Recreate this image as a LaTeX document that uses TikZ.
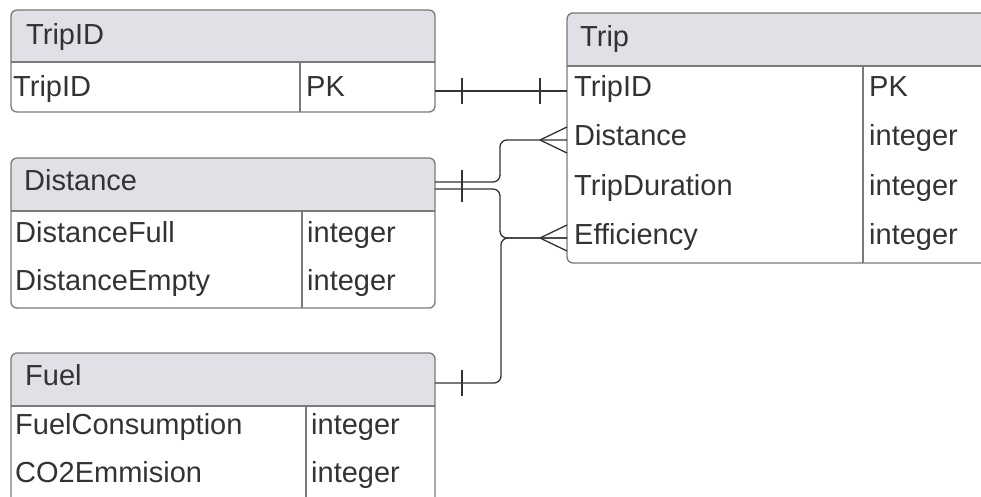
\documentclass[tikz,border=0pt]{standalone}
\usepackage{fontspec}
\setmainfont{Liberation Sans}
\definecolor{hdrgray}{HTML}{DFE1E6}
\definecolor{framegray}{HTML}{7A7A7A}
\definecolor{ink}{HTML}{333333}
\begin{document}
\begin{tikzpicture}[x=1pt,y=-1pt,
  hdr/.style={fill=hdrgray},
  frame/.style={draw=framegray, line width=1.3pt, rounded corners=6pt},
  rule/.style={draw=framegray, line width=1.1pt},
  lbl/.style={anchor=base west, text=ink, inner sep=0pt,
              font=\fontsize{29}{32}\selectfont},
  rel/.style={draw=ink, line width=1.3pt, rounded corners=7pt},
  bar/.style={draw=ink, line width=1.3pt}]
\useasboundingbox (0,0) rectangle (981,497);
\clip (0,0) rectangle (981,497);

% ---------- table TripID ----------
\fill[hdr] (11,62) [rounded corners=6pt] -- (11,10) -- (435,10) [sharp corners] -- (435,62) -- cycle;
\path[frame] (11,10) rectangle (435,112);
\draw[rule] (11,62) -- (435,62);
\draw[rule] (300,62) -- (300,112);
\node[lbl] (tidH)  at (26,45)  {TripID};
\node[lbl] (tidR1) at (13,97)  {TripID};
\node[lbl] (tidT1) at (306,97) {PK};
\coordinate (tidOut) at (435,91);

% ---------- table Trip ----------
\fill[hdr] (567,66) [rounded corners=6pt] -- (567,13) -- (1000,13) [sharp corners] -- (1000,66) -- cycle;
\path[frame] (567,13) rectangle (1000,263);
\draw[rule] (567,66) -- (1000,66);
\draw[rule] (863,66) -- (863,263);
\node[lbl] (tripH)  at (580,47)  {Trip};
\node[lbl] (tripR1) at (574,97)  {TripID};
\node[lbl] (tripR2) at (574,146) {Distance};
\node[lbl] (tripR3) at (574,195) {TripDuration};
\node[lbl] (tripR4) at (574,244) {Efficiency};
\node[lbl] (tripT1) at (869,97)  {PK};
\node[lbl] (tripT2) at (869,146) {integer};
\node[lbl] (tripT3) at (869,195) {integer};
\node[lbl] (tripT4) at (869,244) {integer};
\coordinate (tripIn1) at (567,91);
\coordinate (tripIn2) at (567,140);
\coordinate (tripIn4) at (567,238);

% ---------- table Distance ----------
\fill[hdr] (11,211) [rounded corners=6pt] -- (11,158) -- (435,158) [sharp corners] -- (435,211) -- cycle;
\path[frame] (11,158) rectangle (435,308);
\draw[rule] (11,211) -- (435,211);
\draw[rule] (302,211) -- (302,308);
\node[lbl] (distH)  at (24,190)  {Distance};
\node[lbl] (distR1) at (15,242)  {DistanceFull};
\node[lbl] (distR2) at (15,290)  {DistanceEmpty};
\node[lbl] (distT1) at (307,242) {integer};
\node[lbl] (distT2) at (307,290) {integer};
\coordinate (distOutA) at (435,182);
\coordinate (distOutB) at (435,189);

% ---------- table Fuel ----------
\fill[hdr] (11,406) [rounded corners=6pt] -- (11,353) -- (435,353) [sharp corners] -- (435,406) -- cycle;
\path[frame] (11,353) rectangle (435,520);
\draw[rule] (11,406) -- (435,406);
\draw[rule] (306,406) -- (306,520);
\node[lbl] (fuelH)  at (25,385)  {Fuel};
\node[lbl] (fuelR1) at (15,434)  {FuelConsumption};
\node[lbl] (fuelR2) at (15,482)  {CO2Emmision};
\node[lbl] (fuelT1) at (311,434) {integer};
\node[lbl] (fuelT2) at (311,482) {integer};
\coordinate (fuelOut) at (435,383);

% ---------- relationships ----------
% TripID -- Trip : one to one
\draw[rel] (tidOut) -- (tripIn1);
\draw[bar] (462,78) -- (462,104);
\draw[bar] (540,78) -- (540,104);

% Distance -- Trip : one to many (two branches)
\draw[rel] (distOutA) -- (500,182) -- (500,140) -- (tripIn2);
\draw[rel] (distOutB) -- (500,189) -- (500,238) -- (tripIn4);
\draw[bar] (462,170) -- (462,202);

% Fuel -- Trip : one to many
\draw[rel] (fuelOut) -- (501,383) -- (501,238) -- (tripIn4);
\draw[bar] (462,370) -- (462,396);

% crow's feet at the Trip side
\foreach \c/\yy in {tripIn2/140, tripIn4/238}{
  \draw[bar] (540,\yy) -- (567,\yy-13);
  \draw[bar] (540,\yy) -- (567,\yy+13);
}
\end{tikzpicture}
\end{document}
